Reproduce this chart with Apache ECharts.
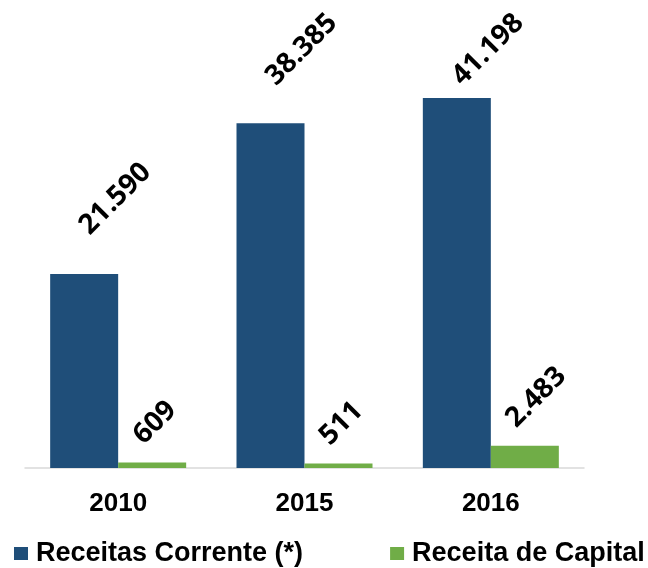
<!DOCTYPE html>
<html>
<head>
<meta charset="utf-8">
<script src="https://cdn.jsdelivr.net/npm/echarts@6/dist/echarts.min.js"></script>
<style>
  html, body { margin: 0; padding: 0; background: #fff; }
  #chart { width: 648px; height: 568px; }
</style>
</head>
<body>
<div id="chart"></div>
<script>
const years = ['2010', '2015', '2016']
const receitasCorrente = [21590, 38385, 41198]
const receitaCapital = [609, 511, 2483]

const fmt = v => v.toLocaleString('de-DE')

const chart = echarts.init(document.getElementById('chart'))

function valueLabel(distance, dx) {
  return {
    show: true,
    position: 'top',
    distance: distance,
    offset: [dx, 0],
    rotate: 45,
    align: 'left',
    verticalAlign: 'middle',
    fontFamily: '"Open Sans", "Noto Sans", sans-serif',
    fontWeight: 'bold',
    fontSize: 28,
    color: '#000',
    formatter: p => fmt(p.value)
  }
}

// push a label straight down when it would leave the top of the picture
// (dx/dy act in the label's rotated frame, so split the move over both)
function keepInside(p) {
  const minY = 15
  if (p.labelRect.y >= minY) return {}
  const d = (minY - p.labelRect.y) * Math.SQRT1_2
  return { dx: -d, dy: d }
}

chart.setOption({
  animation: false,
  grid: { left: 25, right: 64, top: 19, bottom: 100 },
  legend: {
    left: 14,
    top: 540,
    width: 640,
    padding: 0,
    itemWidth: 14,
    itemHeight: 13,
    itemGap: 87,
    icon: 'rect',
    textStyle: {
      fontFamily: '"Liberation Sans", Arial, sans-serif',
      fontWeight: 'bold',
      fontSize: 27,
      color: '#000',
      padding: [0, 0, 0, 3]
    },
    data: ['Receitas Corrente (*)', 'Receita de Capital']
  },
  xAxis: {
    type: 'category',
    data: years,
    axisTick: { show: false },
    axisLine: { lineStyle: { color: '#d9d9d9', width: 1.5 } },
    axisLabel: {
      margin: 23,
      fontFamily: '"Liberation Sans", Arial, sans-serif',
      fontWeight: 'bold',
      fontSize: 26,
      color: '#000'
    }
  },
  yAxis: {
    type: 'value',
    min: 0,
    max: 50000,
    show: false,
    splitLine: { show: false }
  },
  series: [
    {
      name: 'Receitas Corrente (*)',
      type: 'bar',
      barWidth: 68,
      barGap: '0%',
      itemStyle: { color: '#1f4e79' },
      label: valueLabel(44, -9),
      labelLayout: keepInside,
      data: receitasCorrente
    },
    {
      name: 'Receita de Capital',
      type: 'bar',
      barWidth: 68,
      barGap: '0%',
      itemStyle: { color: '#70ad47' },
      label: valueLabel(37, -20),
      data: receitaCapital
    }
  ]
})
</script>
</body>
</html>
